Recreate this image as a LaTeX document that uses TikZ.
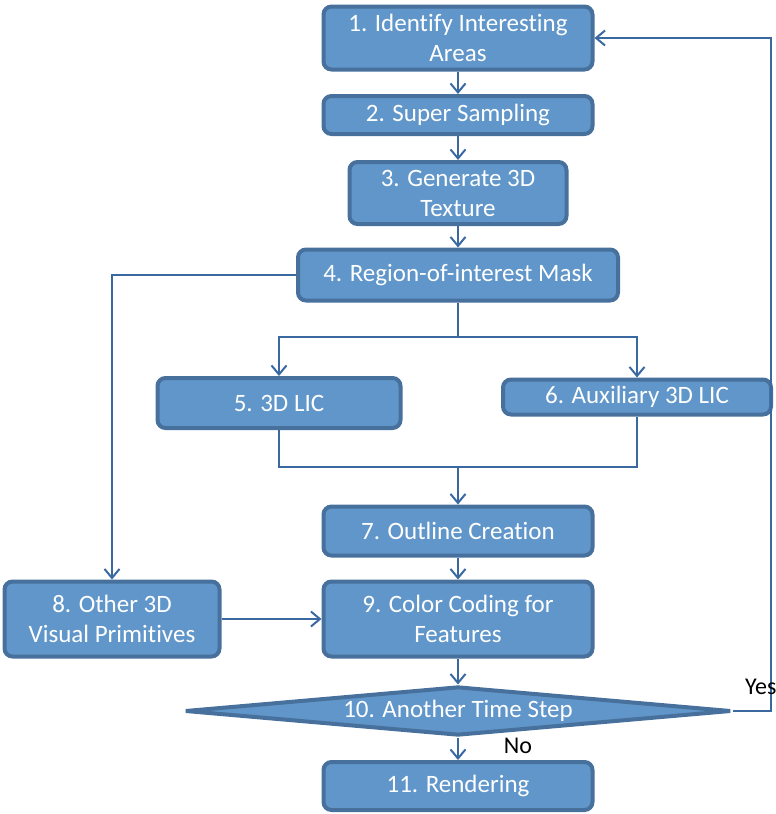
\documentclass[tikz,border=0pt]{standalone}
\usepackage{fontspec}
\setmainfont{Carlito}[Ligatures=NoCommon]
\usetikzlibrary{shapes.geometric,arrows.meta}
\definecolor{boxfill}{HTML}{6096C9}
\definecolor{boxedge}{HTML}{47709C}
\definecolor{linec}{HTML}{3A68A0}
\tikzset{
  box/.style={draw=boxedge, fill=boxfill, line width=4pt, rounded corners=8pt,
    text=white, align=center, inner sep=0pt, font=\fontsize{25}{30}\selectfont},
  dec/.style={draw=boxedge, fill=boxfill, line width=4pt, shape=diamond, aspect=10.4,
    text=white, inner sep=0pt, font=\fontsize{25}{30}\selectfont},
  conn/.style={draw=linec, line width=2pt},
  arr/.style={conn, -{Straight Barb[length=9pt,width=15pt,line width=2pt]}},
  lbl/.style={text=black, inner sep=0pt, font=\fontsize{24}{28}\selectfont}
}
\begin{document}
\begin{tikzpicture}[x=1pt,y=-1pt]
\useasboundingbox (0,0) rectangle (776,814);
\node[box, minimum width=269pt, minimum height=63pt] (b1) at (458,38) {1. Identify Interesting\\Areas};
\node[box, minimum width=269pt, minimum height=38pt] (b2) at (458,115) {2. Super Sampling};
\node[box, minimum width=217pt, minimum height=62pt] (b3) at (458,193) {3. Generate 3D\\Texture};
\node[box, minimum width=320pt, minimum height=51pt] (b4) at (458,275) {4. Region-of-interest Mask};
\node[box, minimum width=243pt, minimum height=50pt] (b5) at (279,403) {5. 3D LIC};
\node[box, minimum width=268pt, minimum height=35pt] (b6) at (637,397) {6. Auxiliary 3D LIC};
\node[box, minimum width=269pt, minimum height=49pt] (b7) at (458,531) {7. Outline Creation};
\node[box, minimum width=215pt, minimum height=75pt] (b8) at (112,619) {8. Other 3D\\Visual Primitives};
\node[box, minimum width=269pt, minimum height=75pt] (b9) at (458,619) {9. Color Coding for\\Features};
\node[dec, minimum width=546pt, minimum height=49pt] (d10) at (458,711) {10. Another Time Step};
\node[box, minimum width=269pt, minimum height=48pt] (b11) at (458,786) {11. Rendering};
\coordinate (s1) at (458,337);
\coordinate (m1) at (458,467);
\coordinate (r1) at (771,711);
\draw[arr] (b1) -- (b2);
\draw[arr] (b2) -- (b3);
\draw[arr] (b3) -- (b4);
\draw[arr] (b4.west) -| (b8.north);
\draw[conn] (b4.south) -- (s1);
\draw[arr] (s1) -| (b5.north);
\draw[arr] (s1) -| (b6.north);
\draw[conn] (b5.south) |- (m1);
\draw[conn] (b6.south) |- (m1);
\draw[arr] (m1) -- (b7.north);
\draw[arr] (b7) -- (b9);
\draw[arr] (b8.east) -- (b9.west);
\draw[arr] (b9.south) -- (d10.north);
\draw[arr] (d10.south) -- (b11.north);
\draw[arr] (d10.east) -- (r1) |- (b1.east);
\node[lbl, anchor=west] (yes) at (745,687) {Yes};
\node[lbl] (no) at (518,746) {No};
\end{tikzpicture}
\end{document}
